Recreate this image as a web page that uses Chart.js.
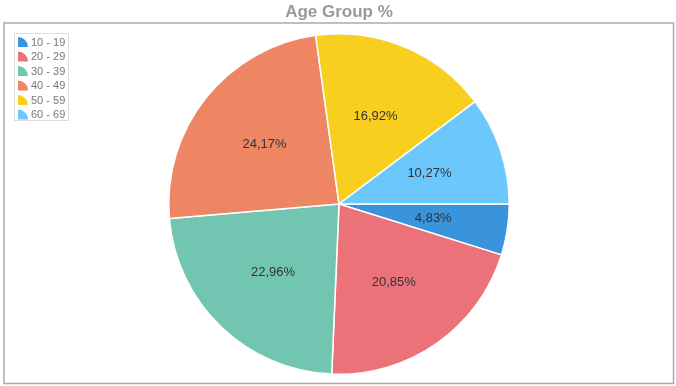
<!DOCTYPE html>
<html>
<head>
<meta charset="utf-8">
<script src="https://cdn.jsdelivr.net/npm/chart.js@4/dist/chart.umd.min.js"></script>
<style>
  html, body { margin: 0; padding: 0; background: #fff; }
  #wrap { width: 676px; height: 386px; }
</style>
</head>
<body>
<div id="wrap"><canvas id="pieChart" width="676" height="386"></canvas></div>
<script>
const titleText = 'Age Group %';
const ageGroups = ['10 - 19', '20 - 29', '30 - 39', '40 - 49', '50 - 59', '60 - 69'];
const percents = [4.83, 20.85, 22.96, 24.17, 16.92, 10.27];
const sliceColors = ['#3a94db', '#ec7279', '#72c6b1', '#ee8563', '#f8cf1f', '#6bc7fc'];

// frame, title, legend and slice labels
const decorPlugin = {
    id: 'decor',
    beforeDraw(chart) {
        const ctx = chart.ctx;
        ctx.save();
        ctx.strokeStyle = '#aaaaaa';
        ctx.lineWidth = 1.5;
        ctx.strokeRect(4, 23, 669.5, 360.5);
        ctx.fillStyle = '#999999';
        ctx.font = 'bold 17px "Liberation Sans", Arial, sans-serif';
        ctx.textAlign = 'center';
        ctx.textBaseline = 'middle';
        ctx.fillText(titleText, 339, 12);
        ctx.restore();
    },
    afterDatasetsDraw(chart) {
        const ctx = chart.ctx;
        const meta = chart.getDatasetMeta(0);
        ctx.save();
        ctx.fillStyle = '#333333';
        ctx.font = '13px "Liberation Sans", Arial, sans-serif';
        ctx.textAlign = 'center';
        ctx.textBaseline = 'middle';
        meta.data.forEach((arc, i) => {
            const mid = (arc.startAngle + arc.endAngle) / 2;
            const r = arc.outerRadius * 0.56;
            const x = arc.x + Math.cos(mid) * r;
            const y = arc.y + Math.sin(mid) * r;
            ctx.fillText(percents[i].toFixed(2).replace('.', ',') + '%', x, y);
        });

        // legend box
        ctx.strokeStyle = '#dddddd';
        ctx.lineWidth = 1;
        ctx.fillStyle = '#ffffff';
        ctx.fillRect(14.5, 33.5, 54, 87);
        ctx.strokeRect(14.5, 33.5, 54, 87);
        ctx.font = '11px "Liberation Sans", Arial, sans-serif';
        ctx.textAlign = 'left';
        ageGroups.forEach((g, i) => {
            const cy = 42 + i * 14.5;
            ctx.fillStyle = sliceColors[i];
            ctx.beginPath();
            ctx.moveTo(18, cy + 5);
            ctx.arc(18, cy + 5, 10, -Math.PI / 2, 0);
            ctx.closePath();
            ctx.fill();
            ctx.fillStyle = '#777777';
            ctx.fillText(g, 31, cy + 0.5);
        });
        ctx.restore();
    }
};

new Chart(document.getElementById('pieChart').getContext('2d'), {
    type: 'pie',
    data: {
        labels: ageGroups,
        datasets: [{
            data: percents,
            backgroundColor: sliceColors,
            borderColor: '#ffffff',
            borderWidth: 1.5
        }]
    },
    options: {
        responsive: false,
        animation: false,
        rotation: 90,
        layout: { padding: { top: 33, bottom: 11, left: 2, right: 0 } },
        plugins: {
            legend: { display: false },
            title: { display: false },
            tooltip: { enabled: false }
        }
    },
    plugins: [decorPlugin]
});
</script>
</body>
</html>
